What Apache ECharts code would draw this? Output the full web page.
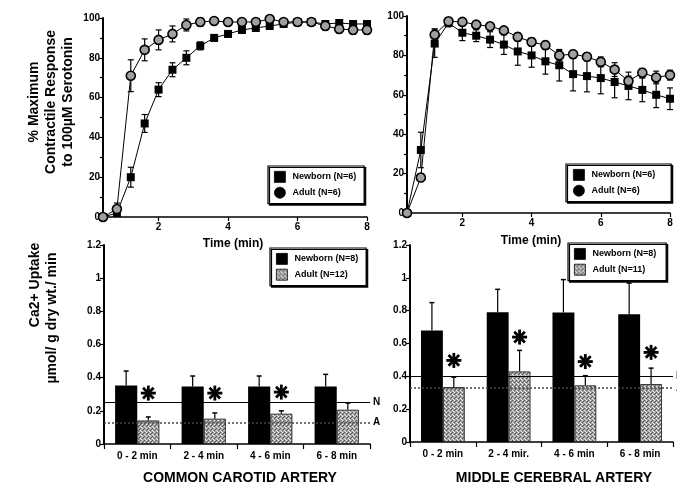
<!DOCTYPE html>
<html>
<head>
<meta charset="utf-8">
<script src="https://cdn.jsdelivr.net/npm/echarts@6/dist/echarts.min.js"></script>
<style>
  html, body { margin: 0; padding: 0; background: #fff; }
  #chart { width: 677px; height: 493px; }
</style>
</head>
<body>
<div id="chart"></div>
<script>
// time points (min)
var times = [0.4, 0.8, 1.2, 1.6, 2.0, 2.4, 2.8, 3.2, 3.6, 4.0, 4.4, 4.8, 5.2, 5.6, 6.0, 6.4, 6.8, 7.2, 7.6, 8.0];
var timeTicks = [2, 4, 6, 8];

// common carotid artery, % max contractile response
var ccaNewborn    = [0, 2, 20, 47, 64, 74, 80, 86, 90, 92, 94, 95, 96, 97, 98, 98, 97, 97.5, 97, 97];
var ccaNewbornErr = [0, 1, 5, 4.5, 3.5, 3.5, 3.5, 2, 1.5, 1.5, 1.5, 1.5, 1.5, 1.5, 1.5, 1.5, 1.5, 1.5, 1.5, 1.5];
var ccaAdult      = [0, 4, 71, 84, 89, 92, 96.5, 98, 98.5, 98, 98, 98, 99.5, 98, 98, 98, 96, 94.5, 94, 94];
var ccaAdultErr   = [0, 3, 8, 5.5, 5, 4, 3, 2, 1.5, 1.5, 1.5, 1.5, 1.5, 1.5, 1.5, 1.5, 2, 2, 2, 2];

// middle cerebral artery, % max contractile response
var mcaNewborn    = [0, 32, 86, 96.5, 91.5, 90, 88, 85.5, 82, 80, 77, 75, 70.5, 69.5, 68.5, 66.5, 64.5, 62.5, 60, 58];
var mcaNewbornErr = [0, 9, 7, 2, 4, 3, 4, 5, 7, 6, 6.5, 8, 8.5, 8, 8, 8, 7, 6, 6.5, 5.5];
var mcaAdult      = [0, 18, 90.5, 97.3, 97, 95.6, 94.8, 92.7, 89.4, 86.8, 85.2, 80, 80.6, 79.3, 76.7, 72.8, 67, 71.2, 68.8, 70];
var mcaAdultErr   = [0, 2, 3, 1.5, 1.5, 1.5, 1.5, 1.5, 2, 2, 2, 2.5, 2, 2, 2.5, 3.5, 2.5, 2.2, 3.2, 2.5];

// Ca2+ uptake
var ccaPeriods = ['0 - 2 min', '2 - 4 min', '4 - 6 min', '6 - 8 min'];
var mcaPeriods = ['0 - 2 min', '2 - 4 mir.', '4 - 6 min', '6 - 8 min'];
var ccaUptakeNewborn    = [0.353, 0.347, 0.347, 0.347];
var ccaUptakeNewbornErr = [0.087, 0.063, 0.063, 0.073];
var ccaUptakeAdult      = [0.142, 0.153, 0.183, 0.207];
var ccaUptakeAdultErr   = [0.021, 0.034, 0.017, 0.040];
var ccaStars = [0.307, 0.307, 0.313, null];
var ccaLineN = 0.253, ccaLineA = 0.13;

var mcaUptakeNewborn    = [0.679, 0.790, 0.789, 0.778];
var mcaUptakeNewbornErr = [0.170, 0.140, 0.200, 0.190];
var mcaUptakeAdult      = [0.335, 0.430, 0.345, 0.353];
var mcaUptakeAdultErr   = [0.060, 0.128, 0.059, 0.097];
var mcaStars = [0.497, 0.639, 0.490, 0.546];
var mcaLineN = 0.395, mcaLineA = 0.33;

var FONT = 'Liberation Sans, Arial, Helvetica, sans-serif';

// halftone-ish pattern for the adult bars
var pc = document.createElement('canvas');
pc.width = 4; pc.height = 4;
var ctx = pc.getContext('2d');
ctx.fillStyle = '#a4a4a4'; ctx.fillRect(0, 0, 4, 4);
ctx.fillStyle = '#555'; ctx.fillRect(0, 0, 1, 1); ctx.fillRect(2, 2, 1, 1); ctx.fillRect(3, 1, 1, 1);
ctx.fillStyle = '#e8e8e8'; ctx.fillRect(2, 0, 1, 1); ctx.fillRect(0, 2, 1, 1); ctx.fillRect(1, 3, 1, 1);
var adultPattern = { image: pc, repeat: 'repeat' };

function zip(xs, ys, es) {
  return xs.map(function (x, i) { return es ? [x, ys[i], es[i]] : [x, ys[i]]; });
}

function seg(x1, y1, x2, y2, w) {
  return { type: 'line', shape: { x1: x1, y1: y1, x2: x2, y2: y2 }, style: { stroke: '#000', lineWidth: w || 1.2 } };
}

// symmetric error bars on the time plots
function errItem(params, api) {
  var x = api.value(0), y = api.value(1), e = api.value(2);
  if (!e) return;
  var hi = api.coord([x, y + e]), lo = api.coord([x, y - e]);
  return { type: 'group', children: [
    seg(hi[0], hi[1], lo[0], lo[1]),
    seg(hi[0] - 3, hi[1], hi[0] + 3, hi[1]),
    seg(lo[0] - 3, lo[1], lo[0] + 3, lo[1])
  ] };
}

// upward error bars on the grouped bars; side -1 newborn, +1 adult
function barErrItem(side) {
  return function (params, api) {
    var c = api.value(0), y = api.value(1), e = api.value(2);
    var band = api.size([1, 0])[0];
    var p0 = api.coord([c, y]), p1 = api.coord([c, y + e]);
    var x = p0[0] + side * band / 6;
    return { type: 'group', children: [
      seg(x, p0[1], x, p1[1]),
      seg(x - 2.5, p1[1], x + 2.5, p1[1], 1.5)
    ] };
  };
}

function starItem(params, api) {
  var band = api.size([1, 0])[0];
  var p = api.coord([api.value(0), api.value(1)]);
  var cx = p[0] + band / 6, cy = p[1], r = 7.5, kids = [];
  for (var k = 0; k < 4; k++) {
    var a = k * Math.PI / 4;
    kids.push(seg(cx - r * Math.cos(a), cy - r * Math.sin(a), cx + r * Math.cos(a), cy + r * Math.sin(a), 2.8));
  }
  return { type: 'group', children: kids };
}

function starData(vals) {
  var out = [];
  vals.forEach(function (v, i) { if (v != null) out.push([i, v]); });
  return out;
}

function lineOf(w) { return { show: true, onZero: false, lineStyle: { color: '#000', width: w || 1.6 } }; }
function tickOf(len, extra) { return Object.assign({ show: true, inside: false, length: len, lineStyle: { color: '#000', width: 1.2 } }, extra || {}); }
function labelOf(extra) { return Object.assign({ show: true, color: '#000', fontFamily: FONT, fontWeight: 'bold', fontSize: 10 }, extra || {}); }

function timeAxis(idx) {
  return {
    type: 'value', gridIndex: idx, min: 0.4, max: 8,
    axisLine: lineOf(),
    axisTick: tickOf(4, { customValues: timeTicks }),
    axisLabel: labelOf({ margin: 5, customValues: timeTicks }),
    splitLine: { show: false }
  };
}
function pctAxis(idx) {
  return {
    type: 'value', gridIndex: idx, min: 0, max: 100, interval: 20,
    axisLine: lineOf(2),
    axisTick: tickOf(4),
    minorTick: { show: true, splitNumber: 2, length: 3, lineStyle: { color: '#000', width: 1.2 } },
    axisLabel: labelOf({ margin: 3 }),
    splitLine: { show: false }
  };
}
function periodAxis(idx, cats) {
  return {
    type: 'category', gridIndex: idx, data: cats,
    axisLine: lineOf(),
    axisTick: tickOf(5, { interval: 0 }),
    axisLabel: labelOf({ margin: 7, interval: 0 }),
    splitLine: { show: false }
  };
}
function uptakeAxis(idx) {
  return {
    type: 'value', gridIndex: idx, min: 0, max: 1.2, interval: 0.2,
    axisLine: lineOf(2),
    axisTick: tickOf(4),
    axisLabel: labelOf({ margin: 3 }),
    splitLine: { show: false }
  };
}

function legendBox(pos, names, icons) {
  return Object.assign({
    orient: 'vertical', itemWidth: 11, itemHeight: 11, itemGap: 4,
    padding: [5, 8, 5, 6], borderColor: '#000', borderWidth: 1.2, borderRadius: 0,
    backgroundColor: '#fff', shadowColor: '#000', shadowBlur: 0, shadowOffsetX: 1.5, shadowOffsetY: 1.5,
    selectedMode: false,
    textStyle: { color: '#000', fontFamily: FONT, fontWeight: 'bold', fontSize: 9, padding: [0, 0, 0, 2] },
    data: names.map(function (n, i) { return { name: n, icon: icons[i], itemStyle: { color: i === 0 ? '#000' : (icons[i] === 'circle' ? '#000' : adultPattern), borderColor: '#000', borderWidth: 0.8 } }; })
  }, pos);
}

function timeSeries(idx, name, data, err, symbol) {
  var isCircle = symbol === 'circle';
  return [{
    name: name, type: 'custom', xAxisIndex: idx, yAxisIndex: idx, z: 1,
    renderItem: errItem, data: zip(times, data, err), silent: true
  }, {
    name: name, type: 'line', xAxisIndex: idx, yAxisIndex: idx, z: 2,
    data: zip(times, data), symbol: symbol, symbolSize: isCircle ? 9 : 8,
    lineStyle: { color: '#000', width: 1 },
    itemStyle: isCircle ? { color: '#a0a0a0', borderColor: '#000', borderWidth: 1.6 } : { color: '#000', borderColor: '#000', borderWidth: 0 }
  }];
}

function uptakeSeries(idx, names, nb, nbErr, ad, adErr, stars, lineN, lineA) {
  return [{
    name: names[0], type: 'bar', xAxisIndex: idx, yAxisIndex: idx, z: 2,
    data: nb, barWidth: '33.3%', barGap: '0%',
    itemStyle: { color: '#000' }
  }, {
    name: names[1], type: 'bar', xAxisIndex: idx, yAxisIndex: idx, z: 2,
    data: ad, barWidth: '33.3%', barGap: '0%',
    itemStyle: { color: adultPattern, borderColor: '#333', borderWidth: 1 },
    markLine: {
      silent: true, symbol: 'none', z: 3, animation: false,
      label: { show: true, position: 'end', distance: 3, color: '#000', fontFamily: FONT, fontWeight: 'bold', fontSize: 10 },
      data: [
        { yAxis: lineN, label: { formatter: 'N' }, lineStyle: { color: '#000', width: 1.2, type: 'solid' } },
        { yAxis: lineA, label: { formatter: 'A' }, lineStyle: { color: '#444', width: 1.6, type: [2, 2] } }
      ]
    }
  }, {
    type: 'custom', xAxisIndex: idx, yAxisIndex: idx, z: 1, silent: true,
    renderItem: barErrItem(-1), data: nb.map(function (v, i) { return [i, v, nbErr[i]]; })
  }, {
    type: 'custom', xAxisIndex: idx, yAxisIndex: idx, z: 1, silent: true,
    renderItem: barErrItem(1), data: ad.map(function (v, i) { return [i, v, adErr[i]]; })
  }, {
    type: 'custom', xAxisIndex: idx, yAxisIndex: idx, z: 4, silent: true,
    renderItem: starItem, data: starData(stars)
  }];
}

function rotText(x, y, text, size) {
  return {
    type: 'text', x: x, y: y, rotation: Math.PI / 2, silent: true,
    style: { text: text, font: 'bold ' + size + 'px ' + FONT, fill: '#000',
      align: 'center', verticalAlign: 'middle', textAlign: 'center', textVerticalAlign: 'middle', lineHeight: 17 }
  };
}
function flatText(x, y, text, size) {
  return {
    type: 'text', x: x, y: y, silent: true,
    style: { text: text, font: 'bold ' + size + 'px ' + FONT, fill: '#000',
      align: 'center', verticalAlign: 'middle', textAlign: 'center', textVerticalAlign: 'middle' }
  };
}

var option = {
  animation: false,
  backgroundColor: '#fff',
  grid: [
    { left: 103, top: 18, width: 264, height: 199 },
    { left: 407, top: 16, width: 263, height: 197 },
    { left: 104, top: 245, width: 266, height: 199 },
    { left: 410, top: 245, width: 263, height: 197 }
  ],
  xAxis: [timeAxis(0), timeAxis(1), periodAxis(2, ccaPeriods), periodAxis(3, mcaPeriods)],
  yAxis: [pctAxis(0), pctAxis(1), uptakeAxis(2), uptakeAxis(3)],
  legend: [
    legendBox({ left: 268, top: 166 }, ['Newborn (N=6)', 'Adult (N=6)'], ['rect', 'circle']),
    legendBox({ left: 566, top: 164, padding: [5, 16, 5, 7] }, ['Newborn (N=6)', 'Adult (N=6)'], ['rect', 'circle']),
    legendBox({ left: 270, top: 248 }, ['Newborn (N=8)', 'Adult (N=12)'], ['rect', 'rect']),
    legendBox({ left: 568, top: 243, padding: [5, 10, 5, 6] }, ['Newborn (N=8)', 'Adult (N=11)'], ['rect', 'rect'])
  ],
  graphic: [
    rotText(51, 102, '% Maximum\nContractile Response\nto 100\u00b5M Serotonin', 14),
    rotText(35, 285, 'Ca2+ Uptake', 14),
    rotText(52, 318, '\u00b5mol/ g dry wt./ min', 14),
    flatText(233, 244, 'Time (min)', 12),
    flatText(531, 241, 'Time (min)', 12),
    flatText(240, 478, 'COMMON CAROTID ARTERY', 14),
    flatText(554, 478, 'MIDDLE CEREBRAL ARTERY', 14)
  ],
  series: [].concat(
    timeSeries(0, 'Newborn (N=6)', ccaNewborn, ccaNewbornErr, 'rect'),
    timeSeries(0, 'Adult (N=6)', ccaAdult, ccaAdultErr, 'circle'),
    timeSeries(1, 'Newborn (N=6)', mcaNewborn, mcaNewbornErr, 'rect'),
    timeSeries(1, 'Adult (N=6)', mcaAdult, mcaAdultErr, 'circle'),
    uptakeSeries(2, ['Newborn (N=8)', 'Adult (N=12)'], ccaUptakeNewborn, ccaUptakeNewbornErr, ccaUptakeAdult, ccaUptakeAdultErr, ccaStars, ccaLineN, ccaLineA),
    uptakeSeries(3, ['Newborn (N=8)', 'Adult (N=11)'], mcaUptakeNewborn, mcaUptakeNewbornErr, mcaUptakeAdult, mcaUptakeAdultErr, mcaStars, mcaLineN, mcaLineA)
  )
};

var myChart = echarts.init(document.getElementById('chart'));
myChart.setOption(option);
</script>
</body>
</html>
